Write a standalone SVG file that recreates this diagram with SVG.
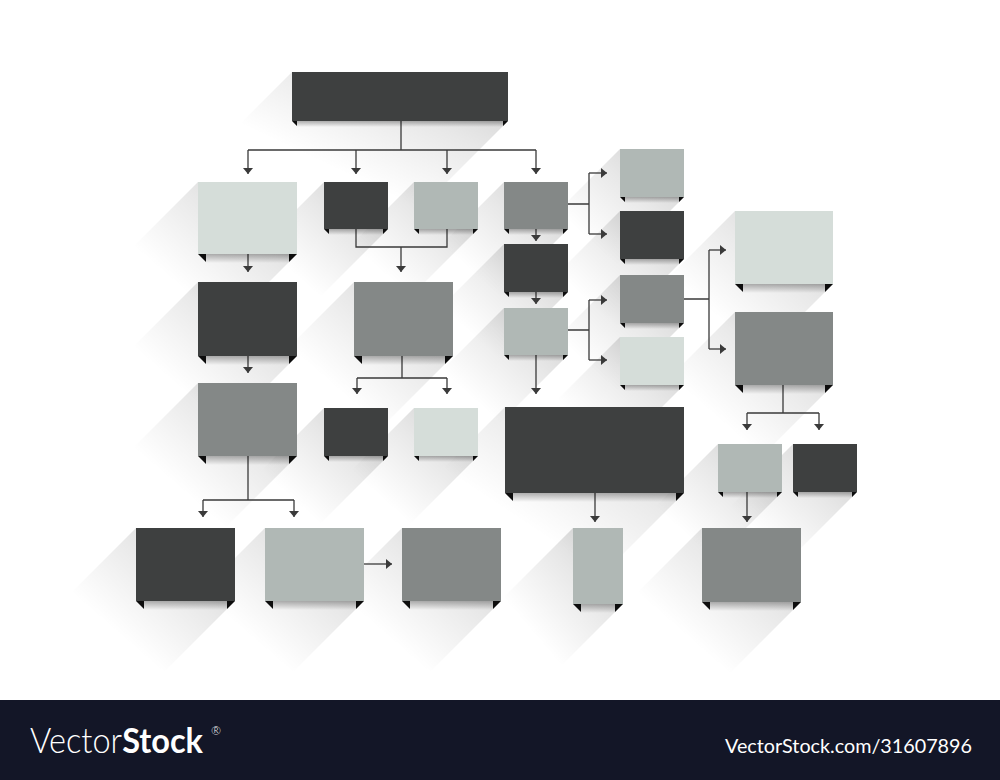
<svg xmlns="http://www.w3.org/2000/svg" width="1000" height="780" viewBox="0 0 1000 780">
<defs>
<linearGradient id="gSh" x1="1" y1="0" x2="0" y2="1">
<stop offset="0" stop-color="#000" stop-opacity="0.2"/>
<stop offset="0.3" stop-color="#000" stop-opacity="0.09"/>
<stop offset="0.6" stop-color="#000" stop-opacity="0"/>
</linearGradient>
<linearGradient id="gCurl" x1="0" y1="0" x2="0" y2="1">
<stop offset="0" stop-color="#000" stop-opacity="0.3"/>
<stop offset="1" stop-color="#000" stop-opacity="0"/>
</linearGradient>
<marker id="ah" viewBox="0 0 6 10" refX="6" refY="5" markerWidth="6" markerHeight="10" markerUnits="userSpaceOnUse" orient="auto">
<path d="M0 0L6 5L0 10z" fill="#3a3a3a"/>
</marker>
<style>
.dk{fill:#3e4040}.md{fill:#848887}.lt{fill:#b0b8b5}.xl{fill:#d5ddd9}
.tab{fill:#0d0d0d}
.sh{fill:url(#gSh)}
.curl{fill:url(#gCurl)}
.cn path{fill:none;stroke:#3a3a3a;stroke-width:1.3}
.cn .ar{marker-end:url(#ah)}
.wm{fill:#ffffff;font-family:Lato,"Liberation Sans",sans-serif}
</style>
</defs>
<rect x="0" y="0" width="1000" height="780" fill="#ffffff"/>

<g id="shadows">
<polygon class="sh" points="292,72 508,72 508,121 408,221 192,221 192,172"/>
<polygon class="sh" points="198,182 297,182 297,254 197,354 98,354 98,282"/>
<polygon class="sh" points="324,182 388,182 388,229 288,329 224,329 224,282"/>
<polygon class="sh" points="414,182 478,182 478,229 378,329 314,329 314,282"/>
<polygon class="sh" points="504,182 568,182 568,229 468,329 404,329 404,282"/>
<polygon class="sh" points="504,244 568,244 568,292 468,392 404,392 404,344"/>
<polygon class="sh" points="504,308 568,308 568,355 468,455 404,455 404,408"/>
<polygon class="sh" points="620,149 684,149 684,197 584,297 520,297 520,249"/>
<polygon class="sh" points="620,211 684,211 684,259 584,359 520,359 520,311"/>
<polygon class="sh" points="620,275 684,275 684,323 584,423 520,423 520,375"/>
<polygon class="sh" points="620,337 684,337 684,385 584,485 520,485 520,437"/>
<polygon class="sh" points="735,211 833,211 833,284 733,384 635,384 635,311"/>
<polygon class="sh" points="735,312 833,312 833,385 733,485 635,485 635,412"/>
<polygon class="sh" points="198,282 297,282 297,356 197,456 98,456 98,382"/>
<polygon class="sh" points="198,383 297,383 297,456 197,556 98,556 98,483"/>
<polygon class="sh" points="354,282 453,282 453,356 353,456 254,456 254,382"/>
<polygon class="sh" points="324,408 388,408 388,456 288,556 224,556 224,508"/>
<polygon class="sh" points="414,408 478,408 478,456 378,556 314,556 314,508"/>
<polygon class="sh" points="505,407 684,407 684,493 584,593 405,593 405,507"/>
<polygon class="sh" points="718,444 782,444 782,492 682,592 618,592 618,544"/>
<polygon class="sh" points="793,444 857,444 857,492 757,592 693,592 693,544"/>
<polygon class="sh" points="136,528 235,528 235,601 135,701 36,701 36,628"/>
<polygon class="sh" points="265,528 364,528 364,601 264,701 165,701 165,628"/>
<polygon class="sh" points="402,528 501,528 501,601 401,701 302,701 302,628"/>
<polygon class="sh" points="573,528 623,528 623,604 523,704 473,704 473,628"/>
<polygon class="sh" points="702,528 801,528 801,602 701,702 602,702 602,628"/>
</g>

<g id="connectors" class="cn">
<path d="M401 121V150M248 150H536"/>
<path class="ar" d="M248 150V174"/>
<path class="ar" d="M356 150V174"/>
<path class="ar" d="M447 150V174"/>
<path class="ar" d="M536 150V174"/>
<path class="ar" d="M248 254V272"/>
<path d="M356 229V247H447V229"/>
<path class="ar" d="M401 247V272"/>
<path class="ar" d="M248 356V373"/>
<path d="M402 356V378M357 378H447"/>
<path class="ar" d="M357 378V394"/>
<path class="ar" d="M447 378V394"/>
<path d="M248 456V500M203 500H294"/>
<path class="ar" d="M203 500V517"/>
<path class="ar" d="M294 500V517"/>
<path class="ar" d="M364 564H392"/>
<path class="ar" d="M536 229V241"/>
<path class="ar" d="M536 292V304"/>
<path class="ar" d="M536 355V394"/>
<path d="M568 204H589M589 173V234"/>
<path class="ar" d="M589 173H607"/>
<path class="ar" d="M589 234H607"/>
<path d="M568 330H589M589 300V360"/>
<path class="ar" d="M589 300H607"/>
<path class="ar" d="M589 360H607"/>
<path d="M684 299H709M709 250V349"/>
<path class="ar" d="M709 250H726"/>
<path class="ar" d="M709 349H726"/>
<path d="M783 385V413M747 413H819"/>
<path class="ar" d="M747 413V430"/>
<path class="ar" d="M819 413V430"/>
<path class="ar" d="M595 493V522"/>
<path class="ar" d="M747 492V522"/>
</g>

<g id="n-top"><rect class="dk" x="292" y="72" width="216" height="49"/><rect class="curl" x="297" y="121" width="206" height="6"/><path class="tab" d="M292 121h5v5zM508 121h-5v5z"/></g>
<g id="n-a"><rect class="xl" x="198" y="182" width="99" height="72"/><rect class="curl" x="206" y="254" width="83" height="9"/><path class="tab" d="M198 254h8v8zM297 254h-8v8z"/></g>
<g id="n-b"><rect class="dk" x="324" y="182" width="64" height="47"/><rect class="curl" x="329" y="229" width="54" height="6"/><path class="tab" d="M324 229h5v5zM388 229h-5v5z"/></g>
<g id="n-c"><rect class="lt" x="414" y="182" width="64" height="47"/><rect class="curl" x="419" y="229" width="54" height="6"/><path class="tab" d="M414 229h5v5zM478 229h-5v5z"/></g>
<g id="n-d"><rect class="md" x="504" y="182" width="64" height="47"/><rect class="curl" x="509" y="229" width="54" height="6"/><path class="tab" d="M504 229h5v5zM568 229h-5v5z"/></g>
<g id="n-e"><rect class="dk" x="504" y="244" width="64" height="48"/><rect class="curl" x="509" y="292" width="54" height="6"/><path class="tab" d="M504 292h5v5zM568 292h-5v5z"/></g>
<g id="n-f"><rect class="lt" x="504" y="308" width="64" height="47"/><rect class="curl" x="509" y="355" width="54" height="6"/><path class="tab" d="M504 355h5v5zM568 355h-5v5z"/></g>
<g id="n-g"><rect class="lt" x="620" y="149" width="64" height="48"/><rect class="curl" x="625" y="197" width="54" height="6"/><path class="tab" d="M620 197h5v5zM684 197h-5v5z"/></g>
<g id="n-h"><rect class="dk" x="620" y="211" width="64" height="48"/><rect class="curl" x="625" y="259" width="54" height="6"/><path class="tab" d="M620 259h5v5zM684 259h-5v5z"/></g>
<g id="n-i"><rect class="md" x="620" y="275" width="64" height="48"/><rect class="curl" x="625" y="323" width="54" height="6"/><path class="tab" d="M620 323h5v5zM684 323h-5v5z"/></g>
<g id="n-j"><rect class="xl" x="620" y="337" width="64" height="48"/><rect class="curl" x="625" y="385" width="54" height="6"/><path class="tab" d="M620 385h5v5zM684 385h-5v5z"/></g>
<g id="n-k"><rect class="xl" x="735" y="211" width="98" height="73"/><rect class="curl" x="743" y="284" width="82" height="9"/><path class="tab" d="M735 284h8v8zM833 284h-8v8z"/></g>
<g id="n-l"><rect class="md" x="735" y="312" width="98" height="73"/><rect class="curl" x="743" y="385" width="82" height="9"/><path class="tab" d="M735 385h8v8zM833 385h-8v8z"/></g>
<g id="n-m"><rect class="dk" x="198" y="282" width="99" height="74"/><rect class="curl" x="206" y="356" width="83" height="9"/><path class="tab" d="M198 356h8v8zM297 356h-8v8z"/></g>
<g id="n-n"><rect class="md" x="198" y="383" width="99" height="73"/><rect class="curl" x="206" y="456" width="83" height="9"/><path class="tab" d="M198 456h8v8zM297 456h-8v8z"/></g>
<g id="n-o"><rect class="md" x="354" y="282" width="99" height="74"/><rect class="curl" x="362" y="356" width="83" height="9"/><path class="tab" d="M354 356h8v8zM453 356h-8v8z"/></g>
<g id="n-p"><rect class="dk" x="324" y="408" width="64" height="48"/><rect class="curl" x="329" y="456" width="54" height="6"/><path class="tab" d="M324 456h5v5zM388 456h-5v5z"/></g>
<g id="n-q"><rect class="xl" x="414" y="408" width="64" height="48"/><rect class="curl" x="419" y="456" width="54" height="6"/><path class="tab" d="M414 456h5v5zM478 456h-5v5z"/></g>
<g id="n-u"><rect class="dk" x="505" y="407" width="179" height="86"/><rect class="curl" x="513" y="493" width="163" height="9"/><path class="tab" d="M505 493h8v8zM684 493h-8v8z"/></g>
<g id="n-w"><rect class="lt" x="718" y="444" width="64" height="48"/><rect class="curl" x="723" y="492" width="54" height="6"/><path class="tab" d="M718 492h5v5zM782 492h-5v5z"/></g>
<g id="n-x"><rect class="dk" x="793" y="444" width="64" height="48"/><rect class="curl" x="798" y="492" width="54" height="6"/><path class="tab" d="M793 492h5v5zM857 492h-5v5z"/></g>
<g id="n-r"><rect class="dk" x="136" y="528" width="99" height="73"/><rect class="curl" x="144" y="601" width="83" height="9"/><path class="tab" d="M136 601h8v8zM235 601h-8v8z"/></g>
<g id="n-s"><rect class="lt" x="265" y="528" width="99" height="73"/><rect class="curl" x="273" y="601" width="83" height="9"/><path class="tab" d="M265 601h8v8zM364 601h-8v8z"/></g>
<g id="n-t"><rect class="md" x="402" y="528" width="99" height="73"/><rect class="curl" x="410" y="601" width="83" height="9"/><path class="tab" d="M402 601h8v8zM501 601h-8v8z"/></g>
<g id="n-v"><rect class="lt" x="573" y="528" width="50" height="76"/><rect class="curl" x="581" y="604" width="34" height="9"/><path class="tab" d="M573 604h8v8zM623 604h-8v8z"/></g>
<g id="n-y"><rect class="md" x="702" y="528" width="99" height="74"/><rect class="curl" x="710" y="602" width="83" height="9"/><path class="tab" d="M702 602h8v8zM801 602h-8v8z"/></g>

<g id="banner">
<rect x="0" y="700" width="1000" height="80" fill="#131627"/>
<text class="wm" x="30" y="753" font-size="35" textLength="173" lengthAdjust="spacingAndGlyphs"><tspan font-weight="300">Vector</tspan><tspan font-weight="700">Stock</tspan></text>
<text class="wm" x="211" y="735" font-size="12" font-weight="300">®</text>
<text class="wm" x="725" y="753" font-size="20" textLength="247" lengthAdjust="spacingAndGlyphs">VectorStock.com/31607896</text>
</g>
</svg>
